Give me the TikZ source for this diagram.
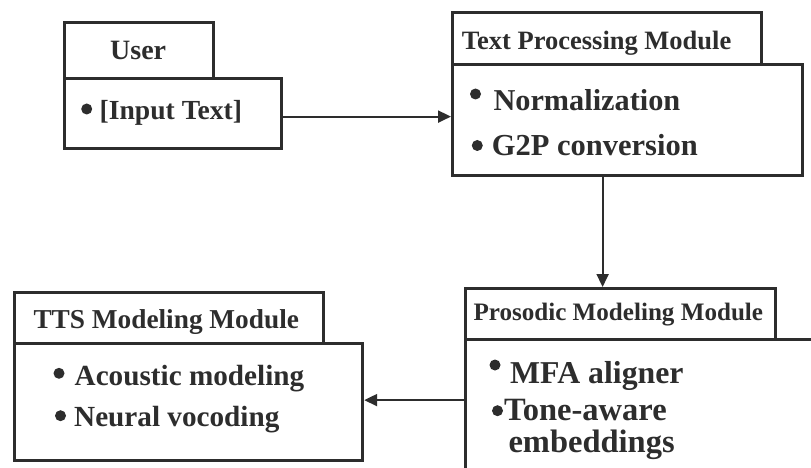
\documentclass[tikz,border=0pt]{standalone}
\usepackage{fontspec}
\setmainfont{Liberation Serif}
\usetikzlibrary{arrows.meta}
\definecolor{ink}{RGB}{45,45,45}
\tikzset{
  box/.style={draw=ink, line width=3.2pt, inner sep=0pt, anchor=north west, fill=white},
  arr/.style={draw=ink, line width=2pt, -{Triangle[length=13pt,width=12pt]}},
  lbl/.style={anchor=base west, inner sep=0pt, text=ink, font=\bfseries},
  dot/.style={circle, fill=ink, inner sep=0pt, minimum size=11pt},
}
\newcommand{\fs}[1]{\fontsize{#1}{#1}\selectfont}
\begin{document}
\begin{tikzpicture}[x=1pt,y=-1pt]
\clip (0,0) rectangle (811,468);
\fill[white] (0,0) rectangle (811,468);
% User
\node[box, minimum width=149pt, minimum height=56pt] (usertab) at (63,21) {};
\node[box, minimum width=217pt, minimum height=70pt] (userbody) at (63,77) {};
\node[lbl, font=\bfseries\fs{28}] (usert) at (110,60) {User};
\node[dot] (ub1) at (86.7,109) {};
\node[lbl, font=\bfseries\fs{27.6}] (ul1) at (99.5,120) {[Input Text]};
% Text Processing
\node[box, minimum width=309pt, minimum height=52pt] (tptab) at (451,11) {};
\node[box, minimum width=350pt, minimum height=111pt] (tpbody) at (451,63) {};
\node[lbl, font=\bfseries\fs{26.5}] (tpt) at (461.7,50) {Text Processing Module};
\node[dot] (tb1) at (475.5,94) {};
\node[lbl, font=\bfseries\fs{30.3}] (tl1) at (493.3,111) {Normalization};
\node[dot] (tb2) at (477.3,145.5) {};
\node[lbl, font=\bfseries\fs{30.5}] (tl2) at (491.7,155) {G2P conversion};
% Prosodic
\node[box, minimum width=310pt, minimum height=51pt] (pmtab) at (464,287) {};
\node[box, minimum width=370pt, minimum height=160pt] (pmbody) at (464,338) {};
\node[lbl, font=\bfseries\fs{25.1}] (pmt) at (473.3,320) {Prosodic Modeling Module};
\node[dot] (pb1) at (495,365) {};
\node[lbl, font=\bfseries\fs{31.8}] (pl1) at (510,383) {MFA aligner};
\node[dot] (pb2) at (497.5,410.7) {};
\node[lbl, font=\bfseries\fs{32.5}] (pl2) at (504,420) {Tone-aware};
\node[lbl, font=\bfseries\fs{32.5}] (pl3) at (508.3,452) {embeddings};
% TTS
\node[box, minimum width=309pt, minimum height=51pt] (ttstab) at (13,291) {};
\node[box, minimum width=348pt, minimum height=117pt] (ttsbody) at (13,342) {};
\node[lbl, font=\bfseries\fs{27.3}] (ttst) at (33.3,328.3) {TTS Modeling Module};
\node[dot] (sb1) at (59,373.3) {};
\node[lbl, font=\bfseries\fs{29.2}] (sl1) at (74.5,385) {Acoustic modeling};
\node[dot] (sb2) at (60.5,415.7) {};
\node[lbl, font=\bfseries\fs{29.2}] (sl2) at (74,426.5) {Neural vocoding};
% connectors
\draw[arr] ([yshift=-3pt]userbody.east) -- ([yshift=-3pt]userbody.east -| tpbody.west);
\draw[arr] ([xshift=-25pt]tpbody.south) -- ([xshift=-25pt]tpbody.south |- pmtab.north);
\draw[arr] ([yshift=2pt]ttsbody.east -| pmbody.west) -- ([yshift=2pt]ttsbody.east);
\end{tikzpicture}
\end{document}
